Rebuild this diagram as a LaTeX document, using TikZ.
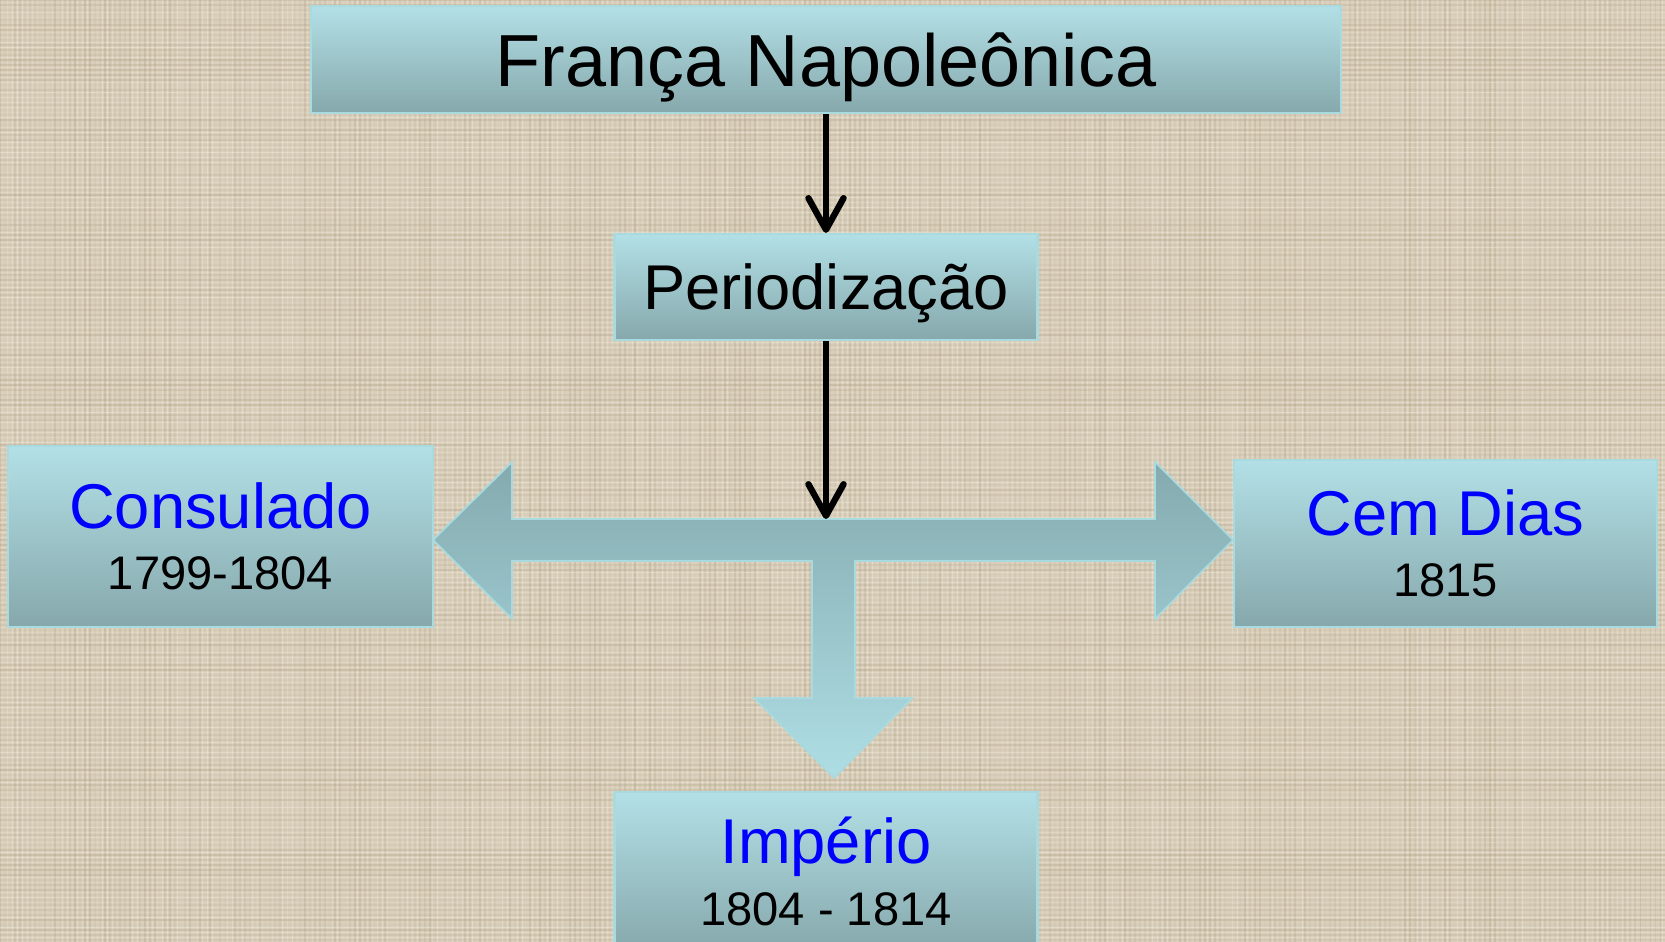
\documentclass[tikz,border=0pt]{standalone}
\usepackage{fontspec}
\setmainfont{Liberation Sans}
\usepackage{tikz}
\usetikzlibrary{arrows.meta,positioning,calc}
\definecolor{fnlinen}    {HTML}{D9CFBB}
\definecolor{fnweave}    {HTML}{B8AA90}
\definecolor{fnthread}   {HTML}{F0EADD}
\definecolor{fntop}      {HTML}{B2E0E6}
\definecolor{fnbottom}   {HTML}{86A8AC}
\definecolor{fnrim}      {HTML}{A8DAE0}
\definecolor{fnarrowtop} {HTML}{84AAAF}
\definecolor{fnarrowmid} {HTML}{92B8BC}
\definecolor{fnarrowtip} {HTML}{AEDEE4}
\definecolor{fnblue}     {HTML}{0000FF}
\tikzset{
  fnbox/.style={draw=fnrim, line width=0.6pt, top color=fntop, bottom color=fnbottom,
                inner sep=0pt, align=center, font=\fontsize{18}{17.4}\selectfont},
  fnedge/.style={-{Straight Barb[length=9pt,width=10pt,round]}, draw=black, line width=1.8pt},
  fnblock/.style={draw=fnrim, line width=0.5pt, top color=fnarrowtop,
                  middle color=fnarrowmid, bottom color=fnarrowtip},
}
\newcommand{\fnname}[1]{\textcolor{fnblue}{#1}}
\newcommand{\fnyear}[1]{{\fontsize{13.4}{16}\selectfont #1}}

\begin{document}
\begin{tikzpicture}
  \useasboundingbox (0,0) rectangle (16.65,-9.42);
  \fill[fnlinen] (0,0) rectangle (16.65,-9.42);
  % linen weave
  \pgfmathsetseed{7}
  \foreach \i in {0,...,332}{
    \pgfmathsetmacro\fnop{0.45*rnd}
    \draw[fnweave, line width=0.35pt, opacity=\fnop] (\i*0.05,0) -- (\i*0.05,-9.42);
    \pgfmathsetmacro\fnop{0.5*rnd}
    \draw[fnthread, line width=0.35pt, opacity=\fnop] (\i*0.05+0.025,0) -- (\i*0.05+0.025,-9.42);
  }
  \foreach \i in {0,...,188}{
    \pgfmathsetmacro\fnop{0.45*rnd}
    \draw[fnweave, line width=0.35pt, opacity=\fnop] (0,-\i*0.05) -- (16.65,-\i*0.05);
    \pgfmathsetmacro\fnop{0.5*rnd}
    \draw[fnthread, line width=0.35pt, opacity=\fnop] (0,-\i*0.05-0.025) -- (16.65,-\i*0.05-0.025);
  }

  % block arrow: left, right and down
  \path[fnblock] (4.33,-5.40) -- (5.12,-4.62) -- (5.12,-5.19) -- (8.26,-5.19) coordinate (J)
    -- (11.55,-5.19) -- (11.55,-4.62) -- (12.33,-5.40) -- (11.55,-6.19) -- (11.55,-5.61)
    -- (8.55,-5.61) -- (8.55,-6.98) -- (9.12,-6.98) -- (8.34,-7.78) -- (7.54,-6.98)
    -- (8.12,-6.98) -- (8.12,-5.61) -- (5.12,-5.61) -- (5.12,-6.19) -- cycle;

  \node[fnbox, minimum width=10.30cm, minimum height=1.07cm, text height=20pt, text depth=4.4pt,
        font=\fontsize{21}{24}\selectfont] (F) at (8.26,-0.595) {França Napoleônica};
  \node[fnbox, minimum width=4.23cm, minimum height=1.06cm, text height=16.8pt, text depth=3.8pt]
        (P) at (8.26,-2.87) {Periodização};
  \node[fnbox, minimum width=4.25cm, minimum height=1.81cm] (C) at (2.205,-5.365)
        {\fnname{Consulado}\\\fnyear{1799-1804}};
  \node[fnbox, minimum width=4.23cm, minimum height=1.67cm] (D) at (14.455,-5.435)
        {\fnname{Cem Dias}\\\fnyear{1815}};
  \node[fnbox, minimum width=4.23cm, minimum height=1.59cm] (I) at (8.26,-8.715)
        {\fnname{Império}\\\fnyear{1804 - 1814}};

  \draw[fnedge] (F) -- (P);
  \draw[fnedge] (P) -- (J);
\end{tikzpicture}
\end{document}
